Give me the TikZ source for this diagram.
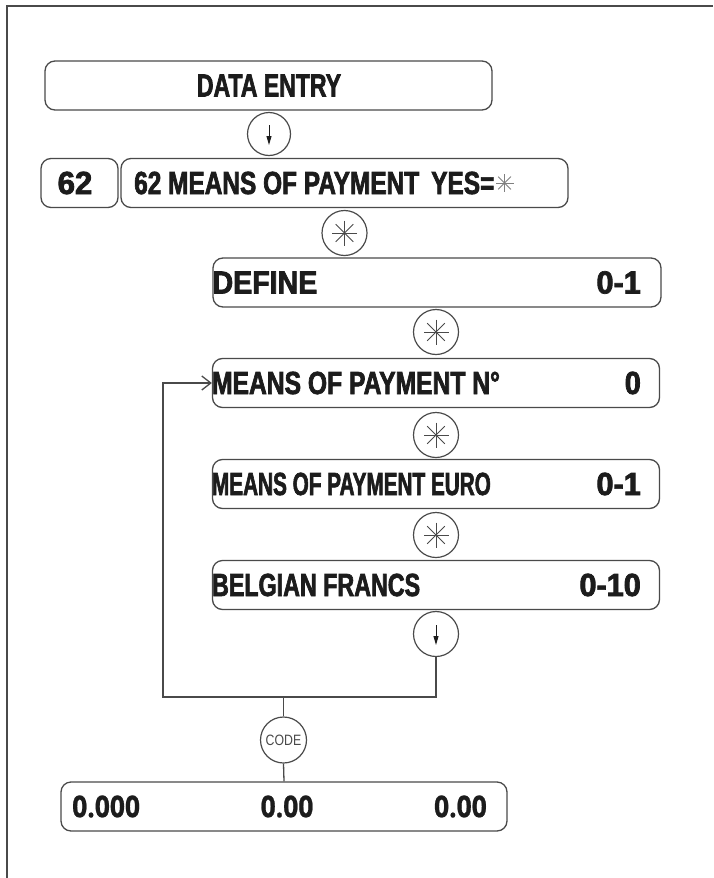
\documentclass[tikz,border=0pt]{standalone}
\usepackage{fontspec}
\usepackage{graphicx}
\usetikzlibrary{arrows.meta,calc}
\newfontfamily\condb{Liberation Sans}[FakeStretch=0.72,FakeBold=2]
\newfontfamily\roundb{Open Sans}[FakeStretch=0.88,FakeBold=0.8]
\newfontfamily\codefont{Liberation Sans}[FakeStretch=0.82]
\newcommand\sx[2]{\scalebox{#1}[1]{#2}}
\definecolor{linec}{HTML}{4A4A4A}
\definecolor{textc}{HTML}{1C1C1C}
\tikzset{
  box/.style={draw=linec, line width=1.3pt, rounded corners=10pt, minimum height=49pt, inner sep=0pt},
  lbl/.style={font=\condb\bfseries\fontsize{32}{34}\selectfont, inner sep=0pt, text=textc},
  numlbl/.style={font=\roundb\bfseries\fontsize{30}{32}\selectfont, inner sep=0pt, text=textc},
  circ/.style={circle, draw=linec, line width=1.2pt, minimum size=45pt, inner sep=0pt},
  conn/.style={draw=linec, line width=1.3pt},
  astpic/.pic={\foreach \a in {0,45,90,135} \draw[linec, line width=1pt] (\a:12.5pt) -- (\a+180:12.5pt);},
  smallast/.pic={\foreach \a in {0,45,90,135} \draw[gray, line width=0.9pt] (\a:9pt) -- (\a+180:9pt);},
  downpic/.pic={\draw[textc, line width=0.9pt, -{Triangle[length=9pt,width=5pt]}] (0pt,9pt) -- (0pt,-11pt);}
}
\begin{document}
\begin{tikzpicture}[x=1pt,y=-1pt]
\useasboundingbox (0,0) rectangle (713,878);
% frame
\coordinate (fbl) at (7,878);
\coordinate (ftl) at (7,6);
\coordinate (ftr) at (713,6);
\draw[linec, line width=1.8pt] (fbl) -- (ftl) -- (ftr);

% boxes
\node[box, minimum width=447pt] (de) at (268.5,85.5) {};
\node[box, minimum width=77pt] (b62) at (79.5,183) {};
\node[box, minimum width=447pt] (m62) at (344.5,183) {};
\node[box, minimum width=448pt] (def) at (437,282.5) {};
\node[box, minimum width=447pt] (nn) at (436,383) {};
\node[box, minimum width=447pt] (eu) at (436,484) {};
\node[box, minimum width=447pt] (be) at (436,585) {};
\node[box, minimum width=446pt] (bot) at (284,806.5) {};

% labels
\node[lbl] (tde) at (269,85.5) {DATA ENTRY};
\node[lbl] (t62) at (75,183) {\sx{1.35}{62}};
\node[lbl, anchor=west] (tm62) at (134,183) {\sx{1.06}{62 MEANS OF PAYMENT\hspace{5pt} YES=}};
\coordinate (astc) at ($(tm62.east)+(10,0)$);
\pic at (astc) {smallast};
\node[lbl, anchor=west] (tdef) at (def.west) {\sx{1.24}{DEFINE}};
\node[lbl, anchor=east] (vdef) at (641,282.5) {\sx{1.33}{0-1}};
\node[lbl, anchor=west] (tnn) at (nn.west) {\sx{1.07}{MEANS OF PAYMENT N°}};
\node[lbl, anchor=east] (vnn) at (641,383) {\sx{1.25}{0}};
\node[lbl, anchor=west] (teu) at (eu.west) {\sx{0.9}{MEANS OF PAYMENT EURO}};
\node[lbl, anchor=east] (veu) at (641,484) {\sx{1.33}{0-1}};
\node[lbl, anchor=west] (tbe) at (be.west) {\sx{1.01}{BELGIAN FRANCS}};
\node[lbl, anchor=east] (vbe) at (641,585) {\sx{1.33}{0-10}};
\node[numlbl, anchor=west] (n1) at (72,806.5) {0.000};
\node[numlbl] (n2) at (287,806.5) {0.00};
\node[numlbl, anchor=east] (n3) at (487,806.5) {0.00};

% circles
\node[circ, minimum size=43pt] (c1) at (269,134) {};
\pic at (c1) {downpic};
\node[circ] (c2) at (344.5,233) {};
\pic at (c2) {astpic};
\node[circ] (c3) at (436,332) {};
\pic at (c3) {astpic};
\node[circ] (c4) at (436,435) {};
\pic at (c4) {astpic};
\node[circ] (c5) at (436,535) {};
\pic at (c5) {astpic};
\node[circ] (c6) at (436,634) {};
\pic at (c6) {downpic};
\node[circ, minimum size=46pt, font=\codefont\fontsize{15}{16}\selectfont, text=textc!80] (code) at (283.5,740) {CODE};

% connectors
\coordinate (lp) at (163,697);
\coordinate (jn) at (283.5,697);
\draw[conn, -{Straight Barb[length=9pt,width=14pt]}] (c6.south) -- (c6.south |- lp) -- (lp) -- (lp |- nn.west) -- (nn.west);
\draw[conn] (jn) -- (code.north);
\draw[conn] (code.south) -- (bot.north);
\end{tikzpicture}
\end{document}
